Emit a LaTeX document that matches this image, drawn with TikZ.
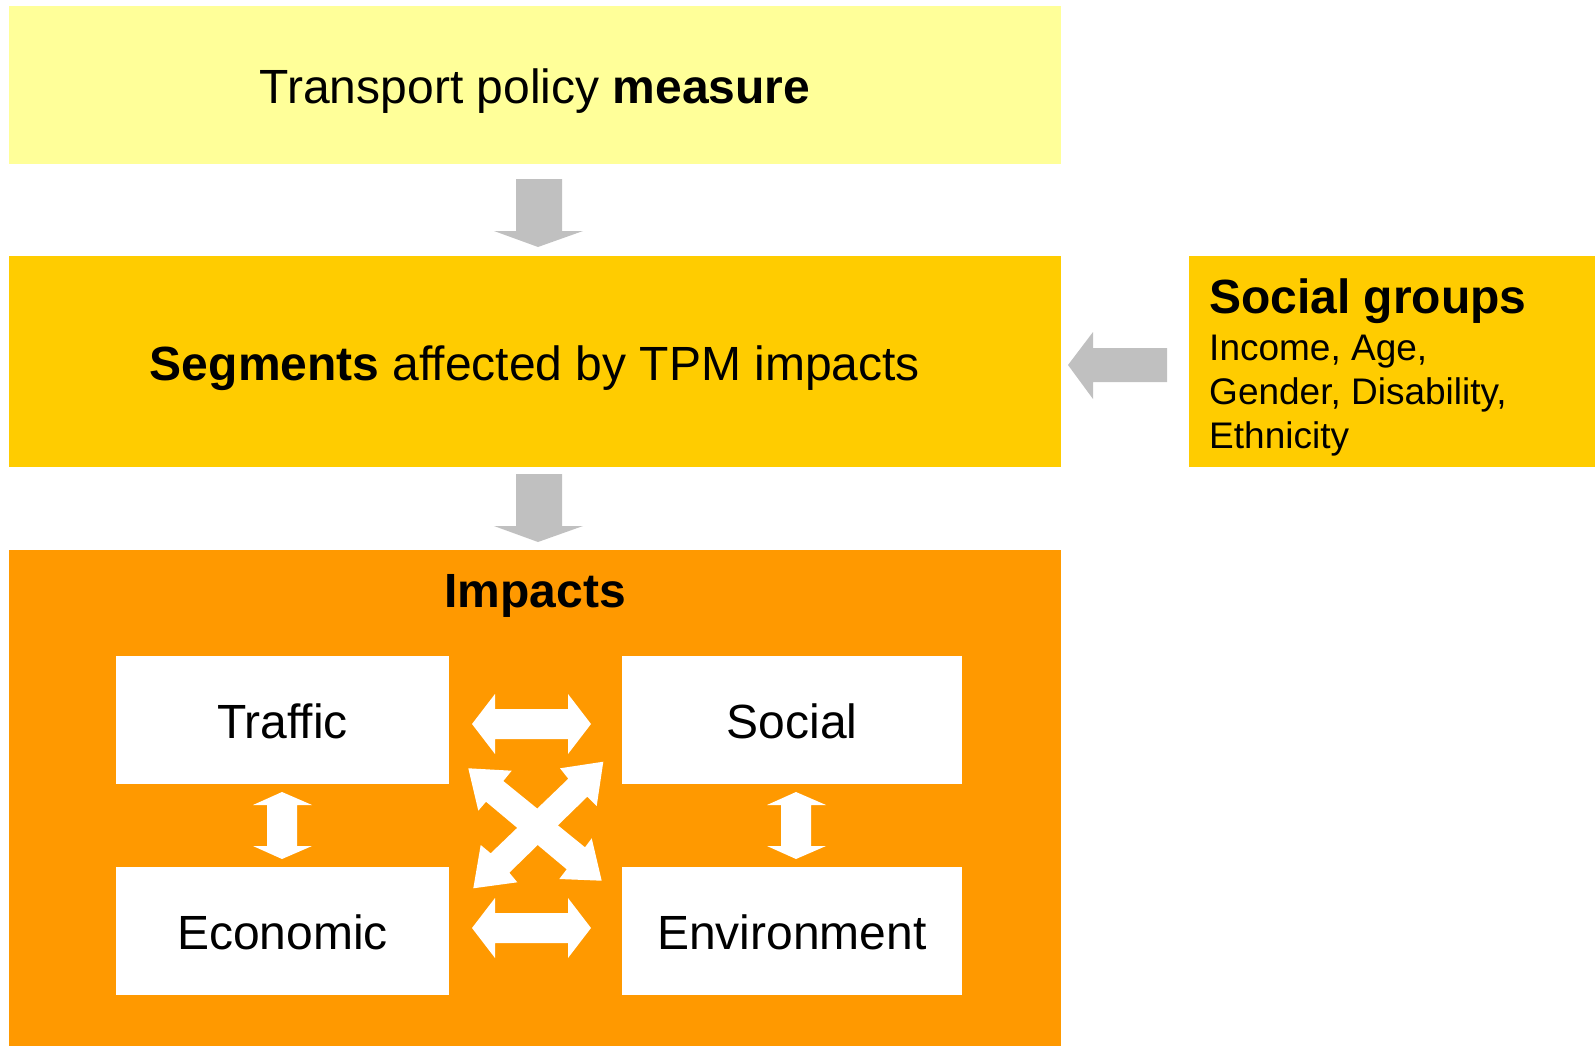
\documentclass[tikz,border=0pt]{standalone}
\usepackage{fontspec}
\setmainfont{Liberation Sans}
\definecolor{lightyel}{HTML}{FFFF99}
\definecolor{segyel}{HTML}{FFCC00}
\definecolor{impor}{HTML}{FF9900}
\definecolor{arrowgray}{HTML}{C0C0C0}
\begin{document}
\begin{tikzpicture}[x=1pt,y=-1pt,
  box/.style={rectangle,inner sep=0pt,outer sep=0pt,draw=none},
  big/.style={inner sep=0pt,font=\fontsize{48}{58}\selectfont},
  small/.style={inner sep=0pt,font=\fontsize{37}{44}\selectfont},
  grayarrow/.style={fill=arrowgray},
  whitearrow/.style={fill=white}]
\useasboundingbox (0,0) rectangle (1595,1046);
% boxes
\node[box,fill=lightyel,minimum width=1052pt,minimum height=158pt] (tpm) at (535,85) {};
\node[box,fill=segyel,minimum width=1052pt,minimum height=211pt] (seg) at (535,361.5) {};
\node[box,fill=segyel,minimum width=406pt,minimum height=211pt] (sg) at (1392,361.5) {};
\node[box,fill=impor,minimum width=1052pt,minimum height=496pt] (imp) at (535,798) {};
\node[box,fill=white,minimum width=333pt,minimum height=128pt] (traffic) at (282.5,720) {};
\node[box,fill=white,minimum width=340pt,minimum height=128pt] (social) at (792,720) {};
\node[box,fill=white,minimum width=333pt,minimum height=128pt] (economic) at (282.5,931) {};
\node[box,fill=white,minimum width=340pt,minimum height=128pt] (environment) at (792,931) {};
% texts
\node[big,anchor=base] (tpmtext) at (535,104) {Transport policy \textbf{measure}};
\node[big,anchor=base] (segtext) at (535,380) {\textbf{Segments} affected by TPM impacts};
\node[big,anchor=base] (imptext) at (535,607) {\textbf{Impacts}};
\node[big,anchor=base] (traffictext) at (282.5,738) {Traffic};
\node[big,anchor=base] (socialtext) at (792,738) {Social};
\node[big,anchor=base] (economictext) at (282.5,949) {Economic};
\node[big,anchor=base] (environmenttext) at (792,949) {Environment};
\node[big,anchor=base west] (sgtitle) at (1209,313) {\textbf{Social groups}};
\node[small,anchor=base west] (sgl1) at (1209,360) {Income, Age,};
\node[small,anchor=base west] (sgl2) at (1209,404) {Gender, Disability,};
\node[small,anchor=base west] (sgl3) at (1209,448) {Ethnicity};
% gray block arrows
\fill[grayarrow] (516,179) -- (562,179) -- (562,231) -- (583,231) -- (538,247) -- (494,231) -- (516,231) -- cycle;
\fill[grayarrow] (516,474) -- (562,474) -- (562,526) -- (583,526) -- (538,542) -- (494,526) -- (516,526) -- cycle;
\fill[grayarrow] (1167,348) -- (1167,382) -- (1093,382) -- (1093,399) -- (1068,365) -- (1093,332) -- (1093,348) -- cycle;
% white double arrows
\fill[whitearrow] (472,724) -- (495,694) -- (495,709) -- (568,709) -- (568,694) -- (591,724) -- (568,754) -- (568,739) -- (495,739) -- (495,754) -- cycle;
\fill[whitearrow] (472,928) -- (495,898) -- (495,913) -- (568,913) -- (568,898) -- (591,928) -- (568,958) -- (568,943) -- (495,943) -- (495,958) -- cycle;
\fill[whitearrow] (282,792) -- (312,805) -- (297,805) -- (297,846) -- (312,846) -- (282,859) -- (253,846) -- (267,846) -- (267,805) -- (253,805) -- cycle;
\fill[whitearrow] (796,792) -- (826,805) -- (811,805) -- (811,846) -- (826,846) -- (796,859) -- (767,846) -- (781,846) -- (781,805) -- (767,805) -- cycle;
% crossing arrows
\fill[whitearrow] (468.3,768.3) -- (511.7,770.7) -- (503.3,781) -- (585,847.3) -- (591.7,838.3) -- (601.7,880.7) -- (559.3,879) -- (566.7,869.3) -- (486,801.7) -- (478.3,810.7) -- cycle;
\fill[whitearrow] (473.3,888.3) -- (480.7,845) -- (490.7,853.3) -- (568.3,778.7) -- (560,768.3) -- (603.3,761.7) -- (596.7,806) -- (587.3,796.7) -- (509.3,872.7) -- (517.3,882.3) -- cycle;
\end{tikzpicture}
\end{document}
